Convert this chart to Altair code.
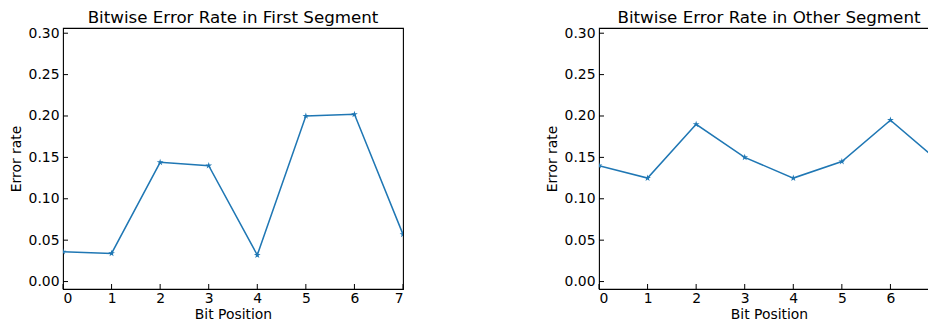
import altair as alt
import pandas as pd

bits = [0, 1, 2, 3, 4, 5, 6, 7]
first_segment = [0.036, 0.034, 0.144, 0.140, 0.032, 0.200, 0.202, 0.057]
other_segment = [0.140, 0.125, 0.190, 0.150, 0.125, 0.145, 0.195, 0.145]
y_ticks = [0.00, 0.05, 0.10, 0.15, 0.20, 0.25, 0.30]
x_ticks = [0, 1, 2, 3, 4, 5, 6, 7]
titles = ["Bitwise Error Rate in First Segment", "Bitwise Error Rate in Other Segment"]

FONT = "DejaVu Sans"
BLUE = "#1f77b4"
W, H = 340, 261
TICK = 5
STAR = ("M0,-1L0.2245,-0.309L0.951,-0.309L0.363,0.118L0.588,0.809L0,0.382"
        "L-0.588,0.809L-0.363,0.118L-0.951,-0.309L-0.2245,-0.309Z")

xscale = alt.Scale(domain=[0, 7], nice=False, zero=False)
yscale = alt.Scale(domain=[-0.009, 0.3063], nice=False, zero=False)

xaxis = alt.Axis(values=x_ticks, format="d", title="Bit Position", labelPadding=2, titlePadding=3)
yaxis = alt.Axis(values=y_ticks, format=".2f", title="Error rate", labelPadding=4, titlePadding=4.7)


def panel(values, title):
    df = pd.DataFrame({"bit": bits, "rate": values})
    base = alt.Chart(df).encode(
        x=alt.X("bit:Q", scale=xscale, axis=xaxis),
        y=alt.Y("rate:Q", scale=yscale, axis=yaxis),
    )
    line = base.mark_line(color=BLUE, strokeWidth=1.5, clip=True)
    pts = base.mark_point(shape=STAR, filled=True, size=50, color=BLUE, opacity=1, clip=True)

    ytk = alt.Chart(pd.DataFrame({"v": y_ticks})).mark_rule(color="black", strokeWidth=1).encode(
        y=alt.Y("v:Q", scale=yscale, axis=yaxis), x=alt.value(0), x2=alt.value(TICK))
    xtk = alt.Chart(pd.DataFrame({"b": x_ticks})).mark_rule(color="black", strokeWidth=1).encode(
        x=alt.X("b:Q", scale=xscale, axis=xaxis), y=alt.value(H), y2=alt.value(H - TICK))

    return alt.layer(line, pts, ytk, xtk).properties(
        width=W, height=H,
        title=alt.TitleParams(title, offset=0),
    )


chart = alt.hconcat(panel(first_segment, titles[0]), panel(other_segment, titles[1]), spacing=139).properties(
    padding={"left": 0, "top": 0, "right": -13, "bottom": 0}
).configure(background="white").configure_view(
    stroke="black", strokeWidth=1.1
).configure_axis(
    ticks=False, domain=False, grid=False,
    labelFontSize=13.9, titleFontSize=13.9, labelFont=FONT, titleFont=FONT,
    titleFontWeight="normal", labelColor="black", titleColor="black",
).configure_title(
    fontSize=16.7, font=FONT, fontWeight="normal", anchor="middle", color="black"
)

chart.save("out.html", embed_options={"renderer": "svg", "actions": False})
